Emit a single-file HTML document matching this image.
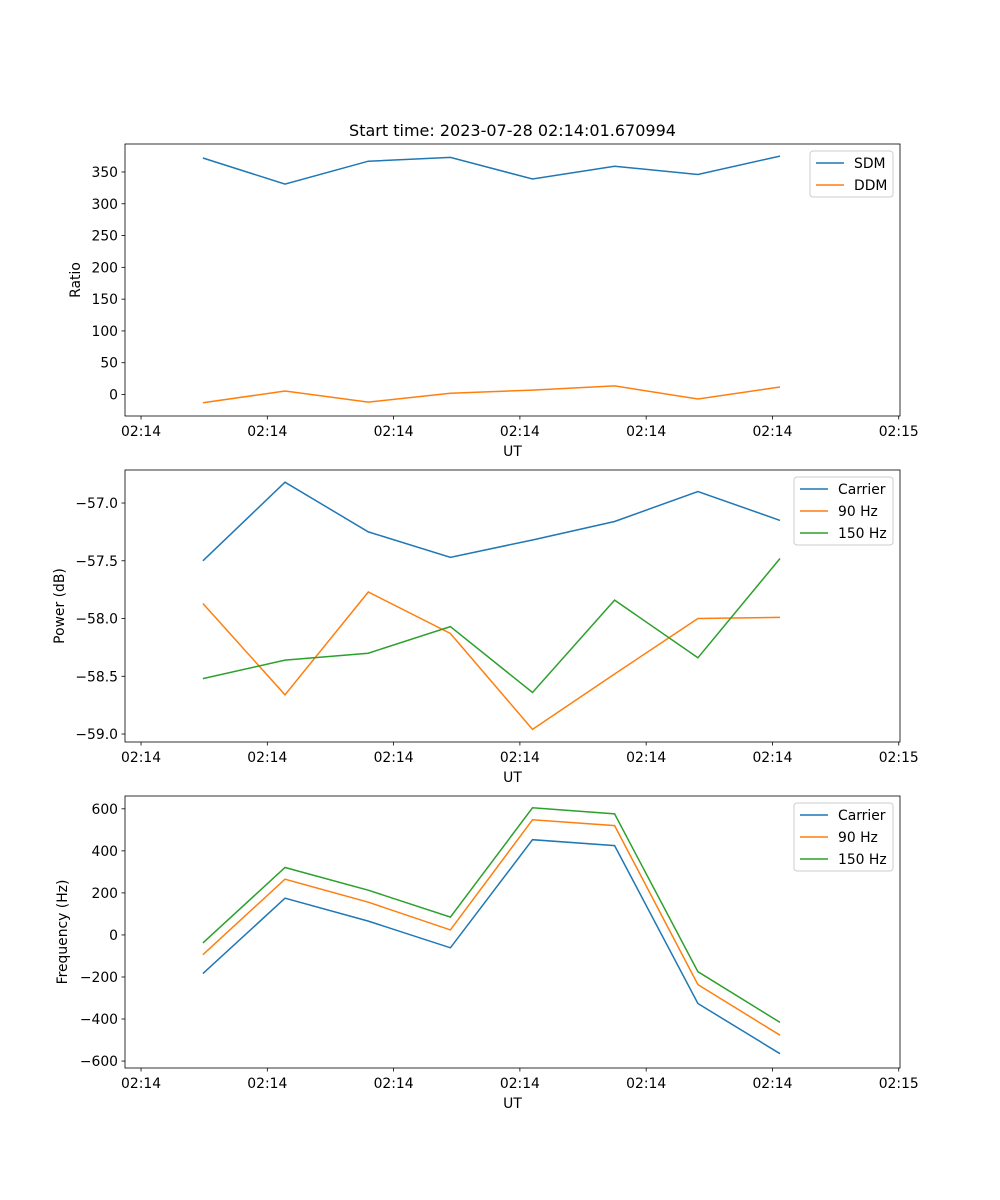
<!DOCTYPE html>
<html><head><meta charset="utf-8"><style>
body{margin:0;background:#fff}
svg{display:block;font-family:"DejaVu Sans","Liberation Sans",sans-serif}
</style></head><body>
<svg id="fig" width="1000" height="1200" viewBox="0 0 1000 1200" xmlns="http://www.w3.org/2000/svg">
<rect width="1000" height="1200" fill="#fff"/>
<text x="512.5" y="136" text-anchor="middle" font-size="16">Start time: 2023-07-28 02:14:01.670994</text>
</svg>
<script>
const times = [4.9, 11.4, 18.0, 24.5, 31.0, 37.5, 44.1, 50.6];
const xTicks = [0, 10, 20, 30, 40, 50, 60];
const xTickLabels = ["02:14","02:14","02:14","02:14","02:14","02:14","02:15"];
const sdm = [372, 331, 367, 373, 339, 359, 346, 375];
const ddm = [-13, 5.5, -12, 2, 7, 13.5, -7, 11.8];
const powCarrier = [-57.50, -56.82, -57.25, -57.47, -57.32, -57.16, -56.90, -57.15];
const pow90 = [-57.87, -58.66, -57.77, -58.13, -58.96, -58.48, -58.00, -57.99];
const pow150 = [-58.52, -58.36, -58.30, -58.07, -58.64, -57.84, -58.34, -57.48];
const freqCarrier = [-184, 175, 66, -61, 453, 425, -326, -565];
const freq90 = [-94, 265, 156, 24, 548, 520, -236, -477];
const freq150 = [-38, 321, 213, 85, 605, 576, -175, -416];
const ticks1 = [0, 50, 100, 150, 200, 250, 300, 350];
const ticks2 = [-59.0, -58.5, -58.0, -57.5, -57.0];
const ticks3 = [-600, -400, -200, 0, 200, 400, 600];

const NS = "http://www.w3.org/2000/svg";
const svg = document.getElementById('fig');
const L = 125, R = 900, XMIN = -1.27, XMAX = 60.1;
const xs = v => L + (v - XMIN) / (XMAX - XMIN) * (R - L);
const C = ['#1f77b4', '#ff7f0e', '#2ca02c'];
function el(tag, attrs, parent) {
  const e = document.createElementNS(NS, tag);
  for (const k in attrs) e.setAttribute(k, attrs[k]);
  (parent || svg).appendChild(e);
  return e;
}
function panel(name, top, bot, ymin, ymax, yticks, fmt, ylabel, ylabelX, series, names, legend) {
  const g = el('g', {});
  
  
  const ys = v => bot - (v - ymin) / (ymax - ymin) * (bot - top);
  series.forEach((s, i) => {
    const p = el('polyline', {points: s.map((v, j) => xs(times[j]).toFixed(1) + ',' + ys(v).toFixed(1)).join(' '), fill: 'none', stroke: C[i], 'stroke-width': 1.5}, g);
    
    
  });
  const fr = el('rect', {x: L, y: top, width: R - L, height: bot - top, fill: 'none', stroke: '#000', 'stroke-width': 0.8}, g);
  
  
  xTicks.forEach((t, i) => {
    const x = xs(t);
    el('line', {x1: x, x2: x, y1: bot, y2: bot + 3.5, stroke: '#000', 'stroke-width': 0.8}, g);
    const tx = el('text', {x: x, y: bot + 20, 'text-anchor': 'middle', 'font-size': 13.9}, g);
    tx.textContent = xTickLabels[i];
    
    
  });
  yticks.forEach(t => {
    const y = ys(t);
    el('line', {x1: L, x2: L - 3.5, y1: y, y2: y, stroke: '#000', 'stroke-width': 0.8}, g);
    const tx = el('text', {x: L - 7, y: y + 5, 'text-anchor': 'end', 'font-size': 13.9}, g);
    tx.textContent = fmt(t);
    
    
  });
  const xl = el('text', {x: (L + R) / 2, y: bot + 40, 'text-anchor': 'middle', 'font-size': 13.9}, g);
  xl.textContent = 'UT';
  
  
  const yc = (top + bot) / 2;
  const yl = el('text', {x: ylabelX, y: yc, 'text-anchor': 'middle', 'font-size': 13.9, transform: 'rotate(-90 ' + ylabelX + ' ' + yc + ')'}, g);
  yl.textContent = ylabel;
  
  
  const lg = el('g', {}, g);
  
  
  el('rect', {x: legend[0], y: top + 7, width: R - 7 - legend[0], height: names.length * 22 + 2, rx: 3, fill: '#fff', stroke: '#ccc', 'stroke-width': 1}, lg);
  names.forEach((n, i) => {
    const y = top + 19 + i * 22;
    el('line', {x1: legend[0] + 6, x2: legend[0] + 34, y1: y, y2: y, stroke: C[i], 'stroke-width': 1.5}, lg);
    const t = el('text', {x: legend[0] + 44, y: y + 5, 'font-size': 13.9}, lg);
    t.textContent = n;
    
    
  });
}
const minus = s => s.replace('-', '\u2212');
panel('ratio', 144, 416, -33.8, 394, ticks1, t => minus(String(t)), 'Ratio', 80, [sdm, ddm], ['SDM', 'DDM'], [810]);
panel('power', 470, 742, -59.069, -56.714, ticks2, t => minus(t.toFixed(1)), 'Power (dB)', 64, [powCarrier, pow90, pow150], ['Carrier', '90 Hz', '150 Hz'], [794]);
panel('frequency', 796, 1068, -633, 661, ticks3, t => minus(String(t)), 'Frequency (Hz)', 67, [freqCarrier, freq90, freq150], ['Carrier', '90 Hz', '150 Hz'], [794]);
</script>
</body></html>
